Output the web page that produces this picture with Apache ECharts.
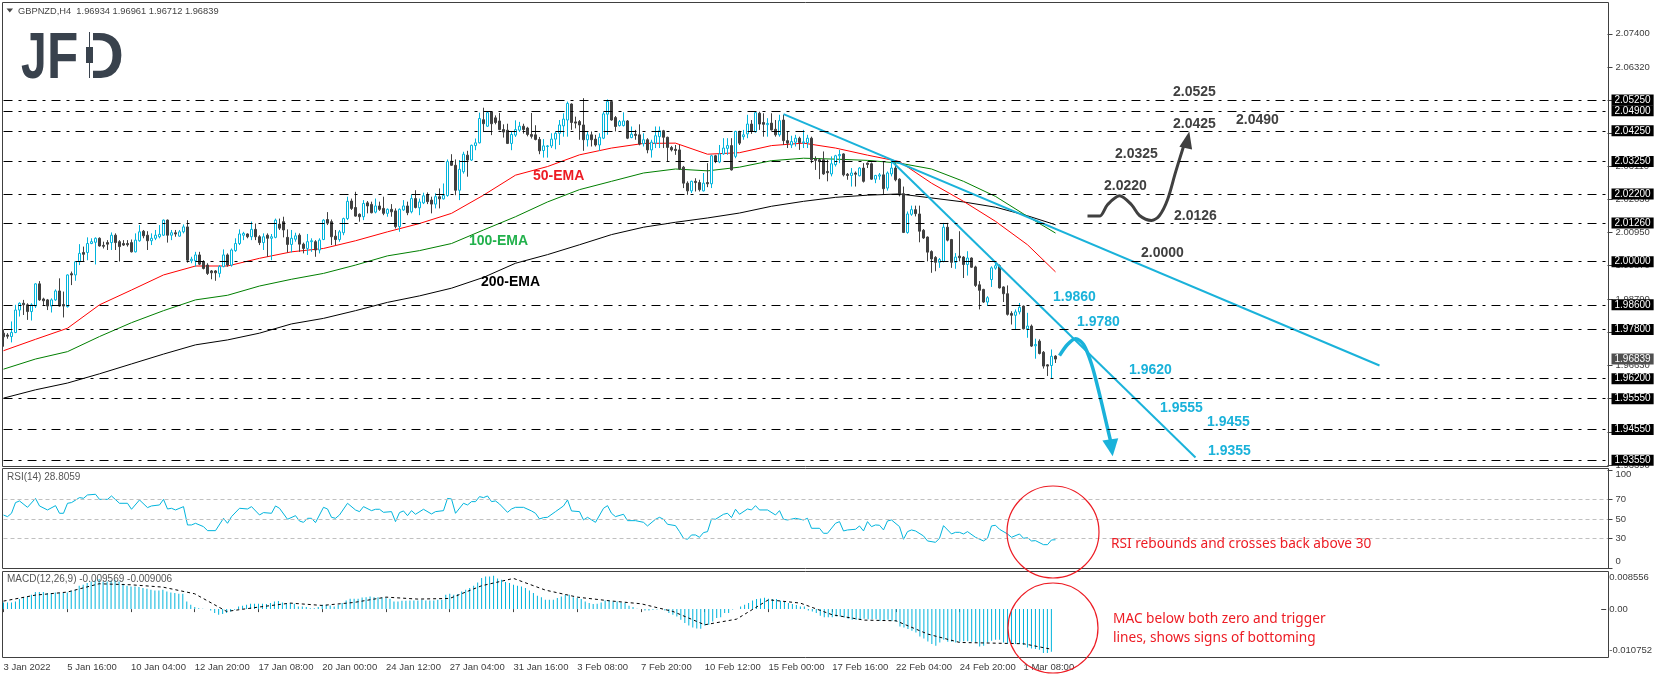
<!DOCTYPE html>
<html>
<head>
<meta charset="utf-8">
<title>GBPNZD H4</title>
<script src="https://cdn.jsdelivr.net/npm/echarts@6/dist/echarts.min.js"></script>
<style>
html, body { margin: 0; padding: 0; background: #fff; }
#chartArea { width: 1655px; height: 678px; }
</style>
</head>
<body>
<div id="chartArea"></div>
<script>
// labels under the MACD panel, one every 16 H4 bars
var timeLabels = ['3 Jan 2022', '5 Jan 16:00', '10 Jan 04:00', '12 Jan 20:00', '17 Jan 08:00', '20 Jan 00:00',
    '24 Jan 12:00', '27 Jan 04:00', '31 Jan 16:00', '3 Feb 08:00', '7 Feb 20:00', '10 Feb 12:00',
    '15 Feb 00:00', '17 Feb 16:00', '22 Feb 04:00', '24 Feb 20:00', '1 Mar 08:00'];

// open, close, low, high
var candles = [
[1.9768,1.9756,1.9724,1.9778],[1.9762,1.9758,1.9750,1.9768],[1.9757,1.9770,1.9738,1.9806],[1.9770,1.9843,1.9768,1.9860],
[1.9843,1.9865,1.9822,1.9868],[1.9865,1.9860,1.9827,1.9876],[1.9860,1.9838,1.9811,1.9865],[1.9838,1.9860,1.9809,1.9865],
[1.9856,1.9928,1.9850,1.9930],[1.9928,1.9876,1.9873,1.9937],[1.9879,1.9873,1.9856,1.9883],[1.9876,1.9856,1.9843,1.9879],
[1.9856,1.9876,1.9835,1.9881],[1.9876,1.9905,1.9873,1.9910],[1.9905,1.9856,1.9854,1.9946],[1.9861,1.9856,1.9819,1.9903],
[1.9854,1.9957,1.9851,1.9959],[1.9961,1.9957,1.9924,1.9968],[1.9957,2.0000,1.9938,2.0002],[2.0000,2.0027,1.9989,2.0057],
[2.0030,2.0024,2.0000,2.0049],[2.0030,2.0059,2.0005,2.0079],[2.0059,2.0065,2.0057,2.0076],[2.0063,2.0076,1.9991,2.0079],
[2.0076,2.0051,2.0049,2.0079],[2.0053,2.0050,2.0043,2.0065],[2.0062,2.0057,2.0038,2.0070],[2.0062,2.0086,2.0038,2.0095],
[2.0086,2.0062,2.0038,2.0092],[2.0065,2.0049,2.0000,2.0070],[2.0059,2.0054,2.0051,2.0070],[2.0059,2.0055,2.0049,2.0070],
[2.0062,2.0032,2.0030,2.0072],[2.0032,2.0070,2.0030,2.0092],[2.0068,2.0097,2.0065,2.0119],[2.0099,2.0084,2.0076,2.0103],
[2.0086,2.0068,2.0038,2.0099],[2.0068,2.0076,2.0054,2.0092],[2.0076,2.0086,2.0070,2.0103],[2.0081,2.0089,2.0076,2.0119],
[2.0086,2.0135,2.0084,2.0137],[2.0135,2.0086,2.0062,2.0137],[2.0086,2.0094,2.0070,2.0103],[2.0094,2.0090,2.0081,2.0103],
[2.0083,2.0097,2.0081,2.0103],[2.0097,2.0113,2.0092,2.0121],[2.0113,2.0005,1.9997,2.0135],[2.0003,2.0008,1.9995,2.0016],
[2.0003,2.0022,1.9984,2.0032],[2.0022,1.9992,1.9989,2.0032],[2.0000,1.9978,1.9975,2.0005],[1.9989,1.9962,1.9957,1.9995],
[1.9970,1.9964,1.9943,1.9973],[1.9970,1.9964,1.9938,1.9973],[1.9962,1.9984,1.9949,1.9989],[1.9984,2.0022,1.9982,2.0040],
[2.0022,1.9989,1.9984,2.0027],[1.9989,2.0038,1.9984,2.0043],[2.0036,2.0059,2.0032,2.0076],[2.0059,2.0090,2.0054,2.0105],
[2.0086,2.0092,2.0070,2.0097],[2.0090,2.0081,2.0076,2.0092],[2.0081,2.0105,2.0070,2.0130],[2.0105,2.0081,2.0070,2.0124],
[2.0081,2.0062,2.0054,2.0086],[2.0062,2.0081,2.0038,2.0092],[2.0086,2.0076,2.0016,2.0092],[2.0076,2.0081,2.0005,2.0090],
[2.0079,2.0135,2.0076,2.0140],[2.0122,2.0109,2.0103,2.0140],[2.0130,2.0103,2.0079,2.0146],[2.0079,2.0056,2.0030,2.0105],
[2.0056,2.0076,2.0030,2.0103],[2.0073,2.0084,2.0065,2.0094],[2.0086,2.0057,2.0032,2.0092],[2.0057,2.0043,2.0027,2.0062],
[2.0043,2.0065,2.0022,2.0090],[2.0065,2.0068,2.0032,2.0076],[2.0065,2.0038,2.0016,2.0070],[2.0038,2.0070,2.0027,2.0076],
[2.0072,2.0135,2.0070,2.0138],[2.0137,2.0125,2.0119,2.0161],[2.0130,2.0081,2.0054,2.0137],[2.0083,2.0072,2.0054,2.0103],
[2.0072,2.0097,2.0065,2.0103],[2.0094,2.0140,2.0086,2.0143],[2.0140,2.0196,2.0135,2.0211],[2.0197,2.0173,2.0168,2.0205],
[2.0176,2.0148,2.0146,2.0227],[2.0154,2.0146,2.0130,2.0157],[2.0146,2.0189,2.0135,2.0200],[2.0191,2.0181,2.0157,2.0197],
[2.0186,2.0159,2.0157,2.0195],[2.0161,2.0181,2.0157,2.0205],[2.0181,2.0170,2.0165,2.0195],[2.0173,2.0157,2.0151,2.0211],
[2.0157,2.0170,2.0146,2.0173],[2.0170,2.0162,2.0146,2.0187],[2.0165,2.0114,2.0108,2.0173],[2.0114,2.0170,2.0097,2.0173],
[2.0168,2.0181,2.0165,2.0200],[2.0181,2.0159,2.0151,2.0195],[2.0162,2.0205,2.0157,2.0218],[2.0205,2.0176,2.0173,2.0232],
[2.0175,2.0194,2.0151,2.0205],[2.0191,2.0214,2.0187,2.0224],[2.0218,2.0195,2.0187,2.0225],[2.0200,2.0187,2.0157,2.0211],
[2.0187,2.0211,2.0173,2.0222],[2.0211,2.0204,2.0173,2.0238],[2.0204,2.0215,2.0202,2.0254],[2.0215,2.0325,2.0211,2.0332],
[2.0326,2.0313,2.0311,2.0349],[2.0313,2.0232,2.0216,2.0332],[2.0232,2.0300,2.0200,2.0330],[2.0292,2.0349,2.0286,2.0357],
[2.0346,2.0330,2.0276,2.0360],[2.0330,2.0378,2.0327,2.0380],[2.0377,2.0386,2.0362,2.0400],[2.0386,2.0465,2.0384,2.0484],
[2.0461,2.0448,2.0421,2.0500],[2.0440,2.0484,2.0438,2.0486],[2.0486,2.0448,2.0411,2.0489],[2.0467,2.0452,2.0446,2.0475],
[2.0457,2.0429,2.0427,2.0483],[2.0429,2.0421,2.0403,2.0446],[2.0427,2.0384,2.0382,2.0448],[2.0384,2.0413,2.0362,2.0421],
[2.0411,2.0429,2.0405,2.0459],[2.0427,2.0440,2.0421,2.0454],[2.0440,2.0429,2.0416,2.0448],[2.0434,2.0413,2.0407,2.0438],
[2.0413,2.0407,2.0400,2.0483],[2.0412,2.0397,2.0394,2.0443],[2.0397,2.0360,2.0349,2.0405],[2.0361,2.0376,2.0338,2.0398],
[2.0374,2.0376,2.0338,2.0379],[2.0376,2.0398,2.0369,2.0417],[2.0398,2.0417,2.0365,2.0423],[2.0417,2.0444,2.0379,2.0460],
[2.0441,2.0463,2.0406,2.0482],[2.0460,2.0514,2.0406,2.0520],[2.0512,2.0452,2.0428,2.0514],[2.0454,2.0450,2.0433,2.0471],
[2.0455,2.0444,2.0396,2.0460],[2.0444,2.0396,2.0360,2.0531],[2.0396,2.0412,2.0374,2.0423],[2.0412,2.0396,2.0374,2.0423],
[2.0398,2.0379,2.0374,2.0412],[2.0379,2.0404,2.0360,2.0417],[2.0401,2.0480,2.0398,2.0487],[2.0479,2.0520,2.0412,2.0527],
[2.0520,2.0460,2.0458,2.0525],[2.0468,2.0439,2.0423,2.0473],[2.0442,2.0455,2.0439,2.0460],[2.0442,2.0457,2.0439,2.0485],
[2.0457,2.0401,2.0398,2.0460],[2.0403,2.0414,2.0401,2.0439],[2.0414,2.0410,2.0396,2.0428],[2.0412,2.0382,2.0378,2.0446],
[2.0383,2.0396,2.0374,2.0417],[2.0396,2.0363,2.0352,2.0401],[2.0363,2.0388,2.0338,2.0396],[2.0385,2.0409,2.0369,2.0439],
[2.0406,2.0425,2.0369,2.0439],[2.0425,2.0404,2.0369,2.0428],[2.0404,2.0371,2.0325,2.0406],[2.0371,2.0363,2.0358,2.0376],
[2.0365,2.0361,2.0347,2.0379],[2.0363,2.0301,2.0298,2.0379],[2.0307,2.0255,2.0239,2.0311],[2.0255,2.0230,2.0217,2.0261],
[2.0230,2.0261,2.0223,2.0263],[2.0261,2.0257,2.0228,2.0271],[2.0257,2.0234,2.0228,2.0266],[2.0230,2.0255,2.0228,2.0288],
[2.0257,2.0253,2.0242,2.0320],[2.0253,2.0344,2.0239,2.0347],[2.0344,2.0325,2.0320,2.0347],[2.0324,2.0350,2.0320,2.0379],
[2.0350,2.0369,2.0347,2.0401],[2.0368,2.0377,2.0347,2.0401],[2.0377,2.0298,2.0296,2.0401],[2.0342,2.0423,2.0336,2.0425],
[2.0423,2.0385,2.0379,2.0425],[2.0406,2.0412,2.0396,2.0428],[2.0415,2.0447,2.0401,2.0477],[2.0447,2.0423,2.0415,2.0460],
[2.0422,2.0484,2.0419,2.0487],[2.0482,2.0447,2.0428,2.0487],[2.0452,2.0446,2.0406,2.0482],[2.0445,2.0449,2.0406,2.0466],
[2.0450,2.0428,2.0426,2.0482],[2.0430,2.0412,2.0406,2.0460],[2.0412,2.0458,2.0406,2.0477],[2.0460,2.0393,2.0379,2.0477],
[2.0393,2.0385,2.0369,2.0423],[2.0379,2.0390,2.0369,2.0409],[2.0388,2.0401,2.0374,2.0412],[2.0401,2.0387,2.0363,2.0406],
[2.0386,2.0389,2.0369,2.0428],[2.0387,2.0401,2.0369,2.0412],[2.0401,2.0331,2.0320,2.0406],[2.0333,2.0329,2.0298,2.0342],
[2.0331,2.0325,2.0268,2.0336],[2.0331,2.0285,2.0282,2.0358],[2.0293,2.0289,2.0261,2.0331],[2.0285,2.0318,2.0277,2.0342],
[2.0315,2.0344,2.0309,2.0347],[2.0344,2.0348,2.0320,2.0363],[2.0350,2.0282,2.0277,2.0352],[2.0284,2.0280,2.0266,2.0288],
[2.0280,2.0288,2.0244,2.0304],[2.0288,2.0284,2.0244,2.0293],[2.0279,2.0304,2.0277,2.0307],[2.0304,2.0261,2.0257,2.0320],
[2.0320,2.0316,2.0304,2.0322],[2.0318,2.0268,2.0266,2.0322],[2.0268,2.0280,2.0255,2.0282],[2.0278,2.0282,2.0266,2.0288],
[2.0282,2.0237,2.0217,2.0325],[2.0239,2.0288,2.0231,2.0293],[2.0285,2.0304,2.0277,2.0331],[2.0304,2.0266,2.0261,2.0320],
[2.0268,2.0217,2.0212,2.0271],[2.0221,2.0095,2.0093,2.0244],[2.0095,2.0155,2.0091,2.0163],[2.0154,2.0169,2.0149,2.0182],
[2.0169,2.0156,2.0147,2.0182],[2.0155,2.0099,2.0063,2.0182],[2.0102,2.0077,2.0074,2.0106],[2.0080,2.0031,2.0001,2.0082],
[2.0033,2.0009,1.9964,2.0037],[2.0014,1.9998,1.9969,2.0018],[1.9998,2.0007,1.9980,2.0012],[2.0001,2.0112,1.9998,2.0126],
[2.0112,2.0070,2.0066,2.0126],[2.0072,1.9998,1.9980,2.0074],[1.9998,2.0015,1.9977,2.0028],[2.0018,2.0013,2.0001,2.0099],
[2.0015,1.9991,1.9947,2.0018],[1.9991,2.0012,1.9955,2.0034],[2.0012,1.9982,1.9980,2.0014],[1.9983,1.9923,1.9918,1.9987],
[1.9925,1.9907,1.9845,1.9937],[1.9910,1.9869,1.9866,1.9912],[1.9869,1.9883,1.9856,1.9888],[1.9942,1.9980,1.9918,1.9985],
[1.9979,1.9987,1.9974,2.0001],[1.9987,1.9915,1.9913,1.9991],[1.9918,1.9896,1.9869,1.9920],[1.9896,1.9829,1.9825,1.9923],
[1.9832,1.9826,1.9796,1.9839],[1.9826,1.9837,1.9780,1.9845],[1.9837,1.9852,1.9829,1.9866],[1.9856,1.9782,1.9780,1.9858],
[1.9782,1.9791,1.9753,1.9834],[1.9791,1.9726,1.9723,1.9796],[1.9727,1.9731,1.9685,1.9750],[1.9742,1.9702,1.9699,1.9748],
[1.9706,1.9661,1.9653,1.9710],[1.9665,1.9661,1.9629,1.9667],[1.9663,1.9693,1.9620,1.9715],[1.96934,1.96839,1.96712,1.96961]
];

// moving averages and MACD signal are read every 8 bars
var sampleBars = [0,8,16,24,32,40,48,56,64,72,80,88,96,104,112,120,128,136,144,152,160,168,176,184,192,200,208,216,224,232,240,248,256,263];
var ema50 = [1.9711,1.9748,1.9784,1.9860,1.9908,1.9957,1.9986,1.9986,2.0011,2.0032,2.0043,2.0068,2.0097,2.0124,2.0157,2.0216,2.0281,2.0309,2.0347,2.0369,2.0384,2.0385,2.0349,2.0354,2.0377,2.0385,2.0369,2.0346,2.0325,2.0255,2.0196,2.0131,2.0055,1.9967];
var ema100 = [1.9651,1.9684,1.9708,1.9757,1.9802,1.9841,1.9876,1.9891,1.9921,1.9943,1.9962,1.9989,2.0019,2.0036,2.0059,2.0103,2.0146,2.0194,2.0234,2.0261,2.0288,2.0301,2.0295,2.0307,2.0328,2.0336,2.0333,2.0329,2.0320,2.0301,2.0261,2.0212,2.0147,2.0093];
var ema200 = [1.9557,1.9584,1.9606,1.9636,1.9668,1.9700,1.9730,1.9746,1.9768,1.9798,1.9816,1.9841,1.9868,1.9889,1.9914,1.9949,1.9995,2.0023,2.0055,2.0088,2.0112,2.0128,2.0142,2.0158,2.0180,2.0196,2.0209,2.0216,2.0220,2.0207,2.0194,2.0177,2.0149,2.0120];

// horizontal levels and the price scale underneath them
var levels = [2.0525, 2.0490, 2.0425, 2.0325, 2.0220, 2.0126, 2.0000, 1.9860, 1.9780, 1.9620, 1.9555, 1.9455, 1.9355];
var lastPrice = 1.96839;
var priceTicks = [2.074, 2.0632, 2.0525, 2.0418, 2.0311, 2.0203, 2.0095, 1.9987, 1.9879, 1.9771, 1.9663, 1.9555, 1.9447, 1.9339];

// hand drawn lines [bar, price]
var trendLong = [[195, 2.0479], [344, 1.9663]];
var trendSteep = [[222, 2.0327], [298, 1.9364]];
var pathDown = [[264, 1.9695], [266, 1.9731], [268, 1.9750], [270, 1.9731], [272, 1.9668], [274, 1.9570], [276, 1.9460], [277, 1.9405]];
var pathUp = [[271, 2.0148], [274, 2.0148], [276, 2.0185], [279, 2.0214], [282, 2.0185], [284, 2.0150], [287, 2.0134], [289, 2.0150], [291, 2.0201], [293, 2.0290], [295, 2.0374]];
var arrowDown = [[277, 1.9396]];
var arrowUp = [[296, 2.0396]];

// RSI turning points [bar, value]
var rsiPoints = [[0,54],[1,52.4],[2,55.8],[3,66.7],[4,68.4],[6,61.9],[8,71],[9,63.3],[11,59.2],[13,63.6],[14,55.8],[15,55.8],[16,66],[17,66.7],[19,71.8],[20,71.1],[21,74.5],[23,75.2],[24,70],[26,70],[27,73.5],[29,66],[31,66],[32,59.9],[34,69.4],[36,61.6],[37,63.3],[39,64.3],[40,70],[41,60.2],[42,60.9],[43,59.2],[45,62.6],[46,43.9],[47,43.9],[48,45.6],[50,42.2],[51,38.1],[53,38.1],[55,50.7],[56,45.6],[57,52.4],[59,60.9],[61,60.2],[62,62.6],[64,54.1],[65,56.5],[67,55.8],[68,63.3],[69,60.9],[71,49.7],[73,53.4],[74,47.9],[75,46.6],[76,50.7],[77,50.7],[78,46.3],[80,61.9],[81,60.2],[82,51.7],[83,50.7],[84,54.1],[86,66],[88,59.2],[89,57.5],[90,62.6],[92,58.5],[93,59.9],[94,59.9],[95,56.8],[97,57.5],[98,47.3],[99,56.5],[100,58.2],[101,53.4],[102,58.5],[103,54.8],[105,59.9],[107,55.1],[108,57.5],[110,58.5],[111,71],[112,70.4],[113,55.8],[115,66],[116,64.3],[117,67.7],[118,67.7],[119,72.8],[120,71.8],[121,73.5],[122,67.7],[123,68.4],[124,65.3],[126,56.8],[127,60.2],[128,61.9],[130,61.9],[132,58.2],[133,55.8],[134,50],[135,51.4],[136,51.7],[138,57.5],[140,63.3],[141,69.4],[142,58.2],[144,57.5],[145,49],[146,51.7],[148,46.6],[150,60.9],[151,63.6],[152,55.8],[153,52.4],[155,54.8],[156,48.3],[158,48.3],[160,46.6],[161,42.9],[163,49.7],[164,51.7],[165,49.7],[166,44.6],[168,43.2],[169,37.1],[170,30.3],[171,29.3],[172,33.7],[173,33.7],[174,31.3],[175,36.1],[176,37.1],[177,50],[178,49.7],[180,54.8],[181,55.8],[182,51.4],[183,59.9],[184,54.8],[186,60.2],[187,59.2],[188,63.6],[189,59.2],[191,59.2],[193,54.1],[194,58.5],[195,49.7],[196,49],[198,50.7],[200,49],[201,50.7],[202,40.5],[204,40.5],[205,35.4],[206,35.4],[208,45.6],[209,47.3],[210,37.8],[211,38.8],[213,39.5],[214,42.9],[215,37.8],[216,47.3],[217,42.2],[218,43.9],[219,43.6],[220,38.8],[221,48],[222,49],[224,42.2],[225,29.3],[226,37.1],[227,38.8],[228,37.8],[230,32.7],[231,27.6],[233,26.2],[234,30.3],[235,43.2],[237,34.7],[238,36.4],[239,36.4],[240,34.7],[241,37.1],[243,31.3],[245,27.6],[246,30.3],[247,42.9],[248,43.6],[249,39.5],[251,34.7],[252,31.3],[254,34.7],[255,30.3],[256,30.9],[257,27.6],[258,27.9],[260,23.8],[261,23.8],[262,28.6],[263,28.8]];
var rsiLevels = [70, 50, 30];
var rsiTicks = [0, 30, 50, 70, 100];
var rsiLabelSpots = [7, 30, 50, 70, 95];
var rsiLabelTexts = ['0', '30', '50', '70', '100'];

// MACD in thousandths
var macdHist = [1.50,1.50,1.50,1.72,2.25,2.69,2.84,3.22,3.82,3.82,3.82,3.59,3.59,3.74,3.59,3.59,3.74,4.12,4.34,5.24,5.46,5.84,6.21,6.44,6.74,6.21,6.21,6.44,6.59,6.21,5.69,5.24,5.09,5.09,4.94,4.72,4.57,4.34,4.19,4.19,4.34,3.97,3.74,3.59,3.44,3.44,1.72,0.97,0.45,0.22,0.07,0,-0.30,-0.90,-1.27,-1.12,-0.90,-0.52,-0.15,0.60,0.75,0.97,1.20,1.20,1.20,1.20,1.12,1.35,1.72,1.80,1.50,1.35,1.35,1.20,0.60,0.60,0.45,0.22,0.22,0.45,0.97,0.97,0.82,0.60,0.97,1.35,1.95,2.32,2.32,2.32,2.62,2.69,2.84,2.69,2.69,2.62,2.47,2.32,1.72,1.72,1.87,1.87,1.95,1.95,1.95,2.10,1.95,1.95,1.95,2.10,2.10,3.22,3.44,3.22,3.37,3.97,4.34,4.72,5.24,5.99,6.96,7.34,7.34,7.49,6.89,6.59,6.06,5.84,5.46,5.24,5.09,4.72,4.19,3.59,2.99,2.69,2.10,2.10,2.10,2.47,2.84,3.14,3.22,2.69,2.47,2.25,1.72,1.35,1.12,1.20,1.50,1.95,1.95,1.72,1.72,1.50,1.35,0.75,0.45,0.07,0,-0.30,-0.30,-0.15,-0.07,0,-0.30,-0.90,-1.27,-1.65,-2.40,-3.14,-3.67,-4.12,-4.34,-4.42,-3.67,-3.52,-2.77,-2.02,-1.80,-0.90,-0.90,-0.07,0,0.60,0.97,1.35,1.95,2.25,2.40,2.55,2.32,2.25,2.25,1.87,1.57,1.35,1.12,0.90,0.60,0.60,-0.30,-0.52,-0.90,-1.50,-1.80,-1.80,-1.80,-1.65,-1.65,-1.87,-2.17,-2.40,-2.40,-2.40,-2.17,-2.25,-2.25,-2.25,-2.62,-2.47,-2.40,-2.62,-2.84,-3.89,-4.12,-4.49,-4.87,-5.24,-6.14,-6.59,-7.26,-7.86,-8.23,-7.49,-6.89,-7.34,-7.34,-7.49,-7.34,-7.19,-7.19,-7.34,-7.49,-8.38,-8.23,-7.49,-7.11,-6.89,-6.89,-7.49,-7.71,-7.86,-7.86,-7.86,-8.08,-8.61,-8.83,-8.98,-9.13,-9.88,-9.88,-9.57];
var macdSignal = [1.80,3.14,3.82,5.69,5.46,4.94,3.44,-0.52,0.45,1.35,0.82,1.50,2.69,2.25,2.40,5.24,6.89,4.27,2.69,1.87,1.20,-0.52,-3.52,-2.25,2.10,1.35,-1.27,-2.47,-2.62,-5.61,-7.49,-7.63,-7.78,-9.01];
var macdTicks = [-10.752, 0, 8.556];
var macdLabelSpots = [-9.3, 0, 7.1];
var macdLabelTexts = ['-0.010752', '0.00', '0.008556'];

var chartTitle = 'GBPNZD,H4  1.96934 1.96961 1.96712 1.96839';
var rsiTitle = 'RSI(14) 28.8059';
var macdTitle = 'MACD(12,26,9) -0.009569 -0.009006';

var BAR_SLOTS = 402;
var BLUE = '#00b4dc';
var DARK = '#404040';
var RED = '#ed1c24';
var TRENDBLUE = '#1ab2da';
var axisFont = 'Liberation Sans';

var categories = [];
for (var i = 0; i < BAR_SLOTS; i++) {
    categories.push(i % 16 === 0 && timeLabels[i / 16] ? timeLabels[i / 16] : String(i));
}

function _withBars(values) {
    return values.map(function(v, idx) { return [sampleBars[idx], v]; });
}

function _isTimeTick(index) {
    return index % 16 === 0 && index / 16 < timeLabels.length;
}

function _xAxis(gridIndex, showLabels) {
    return {
        type: 'category',
        gridIndex: gridIndex,
        data: categories,
        boundaryGap: false,
        axisLine: { show: false },
        axisTick: { show: showLabels, interval: function(index) { return _isTimeTick(index); }, length: 3, lineStyle: { color: DARK } },
        axisLabel: {
            show: showLabels,
            interval: function(index) { return _isTimeTick(index); },
            align: 'left',
            margin: 5,
            hideOverlap: false,
            color: '#3c3c3c',
            fontFamily: axisFont,
            fontSize: 9.5
        },
        splitLine: { show: false }
    };
}

function _yAxis(gridIndex, min, max, ticks, spots, formatter) {
    return {
        type: 'value',
        gridIndex: gridIndex,
        position: 'right',
        min: min,
        max: max,
        scale: true,
        axisLine: { show: false },
        axisTick: { show: true, length: 5, customValues: ticks, lineStyle: { color: DARK } },
        axisLabel: { show: true, customValues: spots, formatter: formatter, margin: 8, color: '#3c3c3c', fontFamily: axisFont, fontSize: 9.5 },
        splitLine: { show: false }
    };
}

function _note(text, x, y, color, font) {
    return { type: 'text', x: x, y: y, z: 100, silent: true, style: { text: text, fill: color, font: font, verticalAlign: 'middle' } };
}

function _frame(top, height) {
    return { type: 'rect', z: 90, silent: true, shape: { x: 2.5, y: top, width: 1606, height: height }, style: { fill: 'none', stroke: DARK, lineWidth: 1 } };
}

function _line(name, data, color, width, z, smooth) {
    return {
        name: name, type: 'line', xAxisIndex: 0, yAxisIndex: 0, data: data, symbol: 'none', z: z,
        smooth: smooth || false, lineStyle: { color: color, width: width }, animation: false
    };
}

function _levelLabel(bg) {
    return {
        show: true, position: 'end', distance: 4, color: '#fff', backgroundColor: bg,
        padding: [1, 3, 0, 3], lineHeight: 10, fontSize: 10, fontFamily: axisFont,
        formatter: function(p) { return p.value.toFixed(5); }
    };
}

function _logoLetter(text, x, scaleX) {
    return { type: 'text', x: x, y: 60, scaleX: scaleX, z: 100, silent: true, style: { text: text, fill: '#39424d', font: logoFont, verticalAlign: 'middle' } };
}

var boldNote = 'bold 14px "Liberation Sans"';
var redNote = '13.7px "Noto Sans"';
var panelNote = '10px "Liberation Sans"';
var titleNote = '9.3px "Liberation Sans"';
var logoFont = 'bold 64px "Liberation Sans"';

var graphic = [
    _frame(2.5, 464),
    _frame(468.5, 100),
    _frame(571.5, 86),
    { type: 'polygon', z: 100, shape: { points: [[6.5, 8.5], [13, 8.5], [9.8, 12.5]] }, style: { fill: '#444' } },
    _note(chartTitle, 18, 11, '#444', titleNote),
    _note(rsiTitle, 7, 477, '#555', panelNote),
    _note(macdTitle, 7, 579, '#555', panelNote),
    // logo
    _logoLetter('J', 21, 0.72),
    _logoLetter('F', 47, 0.8),
    _logoLetter('D', 80, 0.95),
    { type: 'rect', z: 101, shape: { x: 83, y: 28, width: 10, height: 54 }, style: { fill: '#fff' } },
    { type: 'rect', z: 102, shape: { x: 89, y: 32, width: 1, height: 46 }, style: { fill: '#39424d' } },
    { type: 'rect', z: 102, shape: { x: 86, y: 47, width: 7, height: 16 }, style: { fill: '#39424d' } },
    // level notes
    _note('2.0525', 1173, 92, '#404040', boldNote),
    _note('2.0425', 1173, 124, '#404040', boldNote),
    _note('2.0490', 1236, 120, '#404040', boldNote),
    _note('2.0325', 1115, 154, '#404040', boldNote),
    _note('2.0220', 1104, 186, '#404040', boldNote),
    _note('2.0126', 1174, 216, '#404040', boldNote),
    _note('2.0000', 1141, 253, '#404040', boldNote),
    _note('1.9860', 1053, 297, TRENDBLUE, boldNote),
    _note('1.9780', 1077, 322, TRENDBLUE, boldNote),
    _note('1.9620', 1129, 370, TRENDBLUE, boldNote),
    _note('1.9555', 1160, 408, TRENDBLUE, boldNote),
    _note('1.9455', 1207, 422, TRENDBLUE, boldNote),
    _note('1.9355', 1208, 451, TRENDBLUE, boldNote),
    _note('50-EMA', 533, 176, '#ed1c24', boldNote),
    _note('100-EMA', 469, 241, '#22b14c', boldNote),
    _note('200-EMA', 481, 282, '#000', boldNote),
    // RSI and MACD comments
    { type: 'circle', z: 100, shape: { cx: 1053, cy: 532, r: 46 }, style: { fill: 'none', stroke: RED, lineWidth: 1.2 } },
    { type: 'circle', z: 100, shape: { cx: 1053, cy: 628, r: 45 }, style: { fill: 'none', stroke: RED, lineWidth: 1.2 } },
    _note('RSI rebounds and crosses back above 30', 1111, 544, RED, redNote),
    _note('MAC below both zero and trigger', 1113, 619, RED, redNote),
    _note('lines, shows signs of bottoming', 1113, 638, RED, redNote)
];

var levelMarks = levels.map(function(v) {
    return { yAxis: v, label: _levelLabel('#000') };
});
levelMarks.push({ yAxis: lastPrice, lineStyle: { color: 'rgba(0,0,0,0)' }, label: _levelLabel('#505050') });

var option = {
    animation: false,
    backgroundColor: '#fff',
    graphic: graphic,
    grid: [
        { left: 3.5, top: 3, width: 1604, height: 463.5 },
        { left: 3.5, top: 468, width: 1604, height: 100 },
        { left: 3.5, top: 571, width: 1604, height: 86 }
    ],
    xAxis: [_xAxis(0, false), _xAxis(1, false), _xAxis(2, true)],
    yAxis: [
        _yAxis(0, 1.9335, 2.0840, priceTicks, priceTicks, function(v) { return v.toFixed(5); }),
        _yAxis(1, 0, 102, rsiTicks, rsiLabelSpots, function(v) { return rsiLabelTexts[rsiLabelSpots.indexOf(v)]; }),
        _yAxis(2, -10.752, 8.556, macdTicks, macdLabelSpots, function(v) { return macdLabelTexts[macdLabelSpots.indexOf(v)]; })
    ],
    series: [
        {
            name: 'levels', type: 'line', xAxisIndex: 0, yAxisIndex: 0, data: [], z: 1, clip: false,
            markLine: {
                silent: true, symbol: 'none', animation: false, precision: 5,
                lineStyle: { color: '#000', width: 1, type: [9, 6, 3, 6] },
                data: levelMarks
            }
        },
        _line('EMA 200', _withBars(ema200), '#000', 1, 2),
        _line('EMA 100', _withBars(ema100), '#007f00', 1, 2),
        _line('EMA 50', _withBars(ema50), '#ff0000', 1, 2),
        {
            name: 'GBPNZD', type: 'candlestick', xAxisIndex: 0, yAxisIndex: 0, data: candles, z: 3, barWidth: 3,
            itemStyle: { color: '#fff', color0: DARK, borderColor: BLUE, borderColor0: DARK, borderWidth: 1 },
            animation: false
        },
        _line('trend long', trendLong, TRENDBLUE, 2, 4),
        _line('trend steep', trendSteep, TRENDBLUE, 2, 4),
        _line('path down', pathDown, TRENDBLUE, 3.5, 4, 0.3),
        _line('path up', pathUp, DARK, 3, 4, 0.3),
        {
            name: 'arrow down', type: 'scatter', xAxisIndex: 0, yAxisIndex: 0, z: 5, silent: true,
            data: arrowDown, symbol: 'triangle', symbolSize: [16, 17], symbolRotate: 188, itemStyle: { color: TRENDBLUE, opacity: 1 }
        },
        {
            name: 'arrow up', type: 'scatter', xAxisIndex: 0, yAxisIndex: 0, z: 5, silent: true,
            data: arrowUp, symbol: 'triangle', symbolSize: [13, 17], symbolRotate: 348, itemStyle: { color: DARK, opacity: 1 }
        },
        {
            name: 'RSI', type: 'line', xAxisIndex: 1, yAxisIndex: 1, data: rsiPoints, symbol: 'none', z: 3,
            lineStyle: { color: BLUE, width: 1 },
            markLine: {
                silent: true, symbol: 'none', animation: false, label: { show: false },
                lineStyle: { color: '#c0c0c0', width: 1, type: [4, 3] },
                data: rsiLevels.map(function(v) { return { yAxis: v }; })
            }
        },
        {
            name: 'MACD', type: 'bar', xAxisIndex: 2, yAxisIndex: 2, data: macdHist, barWidth: 1, z: 2,
            itemStyle: { color: BLUE }
        },
        {
            name: 'Signal', type: 'line', xAxisIndex: 2, yAxisIndex: 2, data: _withBars(macdSignal), symbol: 'none', z: 3,
            lineStyle: { color: '#000', width: 1, type: [3, 3] }
        }
    ]
};

var myChart = echarts.init(document.getElementById('chartArea'));
myChart.setOption(option);
</script>
</body>
</html>
